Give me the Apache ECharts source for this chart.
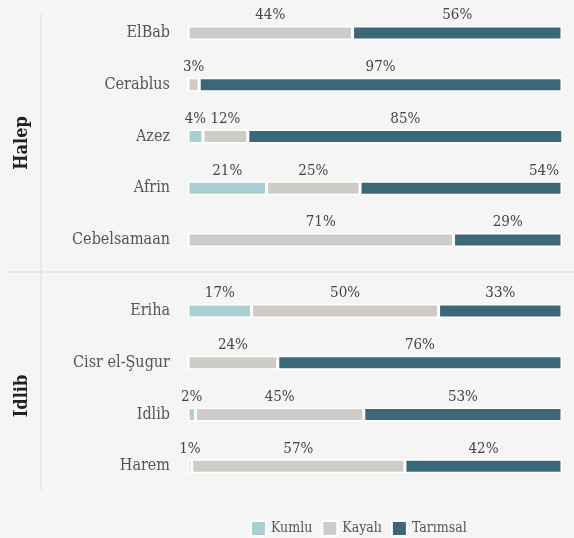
<!DOCTYPE html>
<html>
<head>
<meta charset="utf-8">
<script src="https://cdn.jsdelivr.net/npm/echarts@6/dist/echarts.min.js"></script>
<style>
  html, body { margin: 0; padding: 0; background: #f4f5f4; }
  #chart { width: 574px; height: 538px; }
</style>
</head>
<body>
<div id="chart"></div>
<script>
// kategoriler
const halepCities = ["ElBab", "Cerablus", "Azez", "Afrin", "Cebelsamaan"];
const idlibCities = ["Eriha", "Cisr el-Şugur", "Idlib", "Harem"];
const seriesNames = ["Kumlu", "Kayalı", "Tarımsal"];

// yüzdeler (Halep)
const halepKumlu = [0, 0, 4, 21, 0];
const halepKayali = [44, 3, 12, 25, 71];
const halepTarimsal = [56, 97, 85, 54, 29];

// yüzdeler (Idlib)
const idlibKumlu = [17, 0, 2, 1];
const idlibKayali = [50, 24, 45, 57];
const idlibTarimsal = [33, 76, 53, 42];

const colors = ["#a8d0d3", "#cfccc8", "#3b6878"];
const FONT = "'DejaVu Serif Condensed', 'Liberation Serif', serif";

const chart = echarts.init(document.getElementById("chart"));

const makeSeries = (name, data, idx, gridIdx) => ({
  name: name,
  type: "bar",
  stack: "g" + gridIdx,
  xAxisIndex: gridIdx,
  yAxisIndex: gridIdx,
  barWidth: 14,
  itemStyle: { color: colors[idx], borderColor: "#ffffff", borderWidth: 1.5 },
  label: {
    show: true,
    position: "top",
    distance: 3,
    color: "#444",
    fontFamily: FONT,
    fontSize: 15,
    formatter: (p) => (p.value ? p.value + "%" : ""),
  },
  emphasis: { disabled: true },
  data: data,
});

const catAxis = (cats, gridIdx) => ({
  type: "category",
  gridIndex: gridIdx,
  inverse: true,
  data: cats,
  axisLine: { show: false },
  axisTick: { show: false },
  axisLabel: {
    margin: 18,
    color: "#555",
    fontFamily: FONT,
    fontSize: 16,
  },
});

const valAxis = (gridIdx) => ({
  type: "value",
  gridIndex: gridIdx,
  min: 0,
  max: 100,
  show: false,
});

// Afrin tarımsal etiketi sağa yaslı
const afrinTar = halepTarimsal.map((v, i) =>
  i === 3
    ? { value: v, label: { position: "insideTopRight", offset: [0, -21], align: "right" } }
    : v
);

const option = {
  backgroundColor: "#f4f5f4",
  animation: false,
  grid: [
    { left: 188, right: 12, top: 7, height: 259 },
    { left: 188, right: 12, top: 285, height: 207 },
  ],
  xAxis: [valAxis(0), valAxis(1)],
  yAxis: [catAxis(halepCities, 0), catAxis(idlibCities, 1)],
  legend: {
    left: 245,
    top: 515,
    itemWidth: 15,
    itemHeight: 15,
    itemGap: 9,
    icon: "rect",
    itemStyle: { borderColor: "#ffffff", borderWidth: 2 },
    textStyle: { color: "#555", fontFamily: FONT, fontSize: 14 },
    data: seriesNames,
  },
  graphic: [
    { type: "line", shape: { x1: 41, y1: 14, x2: 41, y2: 490 }, style: { stroke: "#dcdcdc", lineWidth: 1 } },
    { type: "line", shape: { x1: 8, y1: 272, x2: 574, y2: 272 }, style: { stroke: "#dcdcdc", lineWidth: 1 } },
    {
      type: "text", x: 22, y: 143, rotation: Math.PI / 2,
      style: { text: "Halep", fill: "#222", font: "bold 18px " + FONT, align: "center", verticalAlign: "middle" },
    },
    {
      type: "text", x: 22, y: 396, rotation: Math.PI / 2,
      style: { text: "Idlib", fill: "#222", font: "bold 18px " + FONT, align: "center", verticalAlign: "middle" },
    },
  ],
  series: [
    makeSeries(seriesNames[0], halepKumlu, 0, 0),
    makeSeries(seriesNames[1], halepKayali, 1, 0),
    makeSeries(seriesNames[2], afrinTar, 2, 0),
    makeSeries(seriesNames[0], idlibKumlu, 0, 1),
    makeSeries(seriesNames[1], idlibKayali, 1, 1),
    makeSeries(seriesNames[2], idlibTarimsal, 2, 1),
  ],
};

chart.setOption(option);
window.addEventListener("resize", () => {
  chart.resize();
});
</script>
</body>
</html>
